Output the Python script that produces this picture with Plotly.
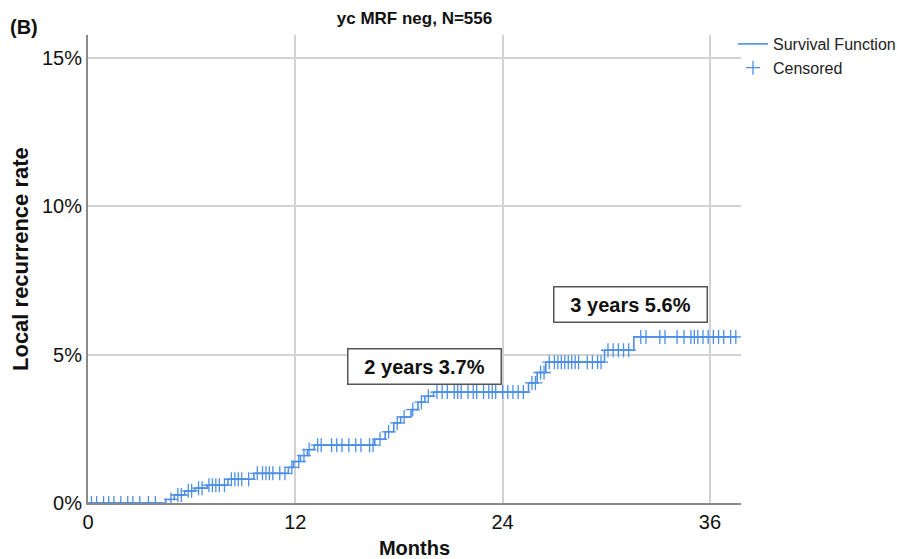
import numpy as np
import plotly.graph_objects as go

# ---- data ----
event_months = [4.5, 5.0, 5.6, 6.2, 6.9, 8.1, 9.6, 11.6, 11.9, 12.3, 12.7, 13.1,
                16.6, 17.2, 17.7, 18.1, 18.7, 19.1, 19.5, 20.0,
                25.5, 26.0, 26.5, 29.9, 31.6]
event_rate = [0.12, 0.27, 0.41, 0.5, 0.6, 0.8, 1.0, 1.2, 1.4, 1.6, 1.8, 1.95,
              2.15, 2.4, 2.7, 2.9, 3.15, 3.4, 3.6, 3.74,
              4.05, 4.4, 4.75, 5.15, 5.6]
follow_up_end = 37.5

censored_months = [0.2, 0.5, 0.9, 1.2, 1.5, 1.9, 2.3, 2.6, 3.0, 3.5, 3.9,
                   4.8, 5.2, 5.4, 5.8, 6.0, 6.4, 6.6,
                   7.0, 7.2, 7.4, 7.6, 7.9, 8.3, 8.5, 8.7, 8.9, 9.3,
                   9.8, 10.1, 10.3, 10.5, 10.7, 11.1, 11.4,
                   11.8, 12.2, 12.5, 12.8,
                   13.3, 13.5, 14.1, 14.4, 14.7, 15.1, 15.5, 15.8, 16.3, 16.5,
                   16.9, 17.4, 17.9, 18.3, 18.8, 19.3, 19.7,
                   20.2, 20.5, 20.8, 21.2, 21.4, 21.6, 22.0, 22.3, 22.5, 22.9,
                   23.2, 23.4, 23.6, 24.0, 24.3, 24.6, 24.9, 25.2,
                   25.7, 25.9, 26.2, 26.4,
                   26.7, 27.0, 27.2, 27.4, 27.6, 27.8, 28.0, 28.2, 28.4, 28.9,
                   29.2, 29.5, 29.7,
                   30.1, 30.4, 30.7, 31.0, 31.3,
                   32.0, 32.3, 33.1, 33.4, 34.1, 34.5, 34.9, 35.1, 35.3, 35.6,
                   35.9, 36.2, 36.5, 36.8, 37.2, 37.5]

x_ticks = [0, 12, 24, 36]
y_ticks = [0, 5, 10, 15]

annotations_text = ["2 years 3.7%", "3 years 5.6%"]
annotations_x = [19.5, 31.4]
annotations_y = [4.59, 6.69]

# ---- build the step curve ----
curve_x = [0.0] + event_months + [follow_up_end]
curve_y = [0.0] + event_rate + [event_rate[-1]]

ev = np.array(event_months)
lv = np.array([0.0] + event_rate)
cens_y = [float(lv[np.searchsorted(ev, t, side="right")]) for t in censored_months]

blue = "#4d8fe6"
FONT = "Liberation Sans, Arial, sans-serif"
PLOT_W, PLOT_H = 653, 468

fig = go.Figure()
fig.add_trace(go.Scatter(
    x=curve_x, y=curve_y, mode="lines", line=dict(color=blue, width=1.6, shape="hv"),
    name="Survival Function", hoverinfo="skip"))
fig.add_trace(go.Scatter(
    x=censored_months, y=cens_y, mode="markers",
    marker=dict(symbol="cross-thin-open", size=10, color=blue,
                line=dict(color=blue, width=1.3)),
    name="Censored"))

for txt, ax_, ay_ in zip(annotations_text, annotations_x, annotations_y):
    fig.add_annotation(x=ax_, y=ay_, text="<b>%s</b>" % txt, showarrow=False,
                       font=dict(family=FONT, size=20, color="#111"),
                       bordercolor="#555", borderwidth=1.5, borderpad=1,
                       width=150, height=32, bgcolor="white")

# panel label
fig.add_annotation(x=(8 - 88) / PLOT_W, y=(503 - 27) / PLOT_H, xref="paper", yref="paper",
                   text="<b>(B)</b>", showarrow=False, xanchor="left", yanchor="middle",
                   font=dict(size=20, color="#111"))
# y-axis title (placed like the reference, slightly above plot centre)
fig.add_annotation(x=(20 - 88) / PLOT_W, y=(503 - 259) / PLOT_H, xref="paper", yref="paper",
                   text="<b>Local recurrence rate</b>", showarrow=False, textangle=-90,
                   xanchor="center", yanchor="middle",
                   font=dict(size=22, color="#111"))

fig.update_layout(
    width=897, height=559,
    margin=dict(l=88, r=156, t=35, b=56, autoexpand=False),
    paper_bgcolor="white", plot_bgcolor="white",
    font=dict(family=FONT, color="#111"),
    title=dict(text="<b>yc MRF neg, N=556</b>", x=414.5 / 897, xanchor="center",
               xref="container", yref="container",
               y=1 - 18 / 559, yanchor="middle",
               font=dict(size=17, color="#111")),
    xaxis=dict(range=[0, 37.8], tickvals=x_ticks, ticktext=[str(v) for v in x_ticks],
               showgrid=True, gridcolor="#d2d2d2", gridwidth=1.5,
               showline=True, linecolor="#8a8a8a", linewidth=2,
               zeroline=False, ticks="", tickfont=dict(size=20, color="#111"),
               automargin=False,
               title=dict(text="<b>Months</b>", font=dict(size=20, color="#111"), standoff=14)),
    yaxis=dict(range=[0, 15.78], tickvals=y_ticks, ticktext=["%d%%" % v for v in y_ticks],
               showgrid=True, gridcolor="#d2d2d2", gridwidth=1.5,
               showline=True, linecolor="#8a8a8a", linewidth=2,
               zeroline=False, ticks="", tickfont=dict(size=20, color="#111"),
               automargin=False),
    legend=dict(xref="container", yref="container",
                x=733 / 897, xanchor="left", y=1 - 27 / 559, yanchor="top",
                font=dict(size=16, color="#222"), bgcolor="rgba(0,0,0,0)",
                tracegroupgap=0, itemwidth=30),
    showlegend=True,
)

fig.write_html("out.html", config={"displayModeBar": False},
               post_script="document.body.style.margin='0';document.body.style.padding='0';")
